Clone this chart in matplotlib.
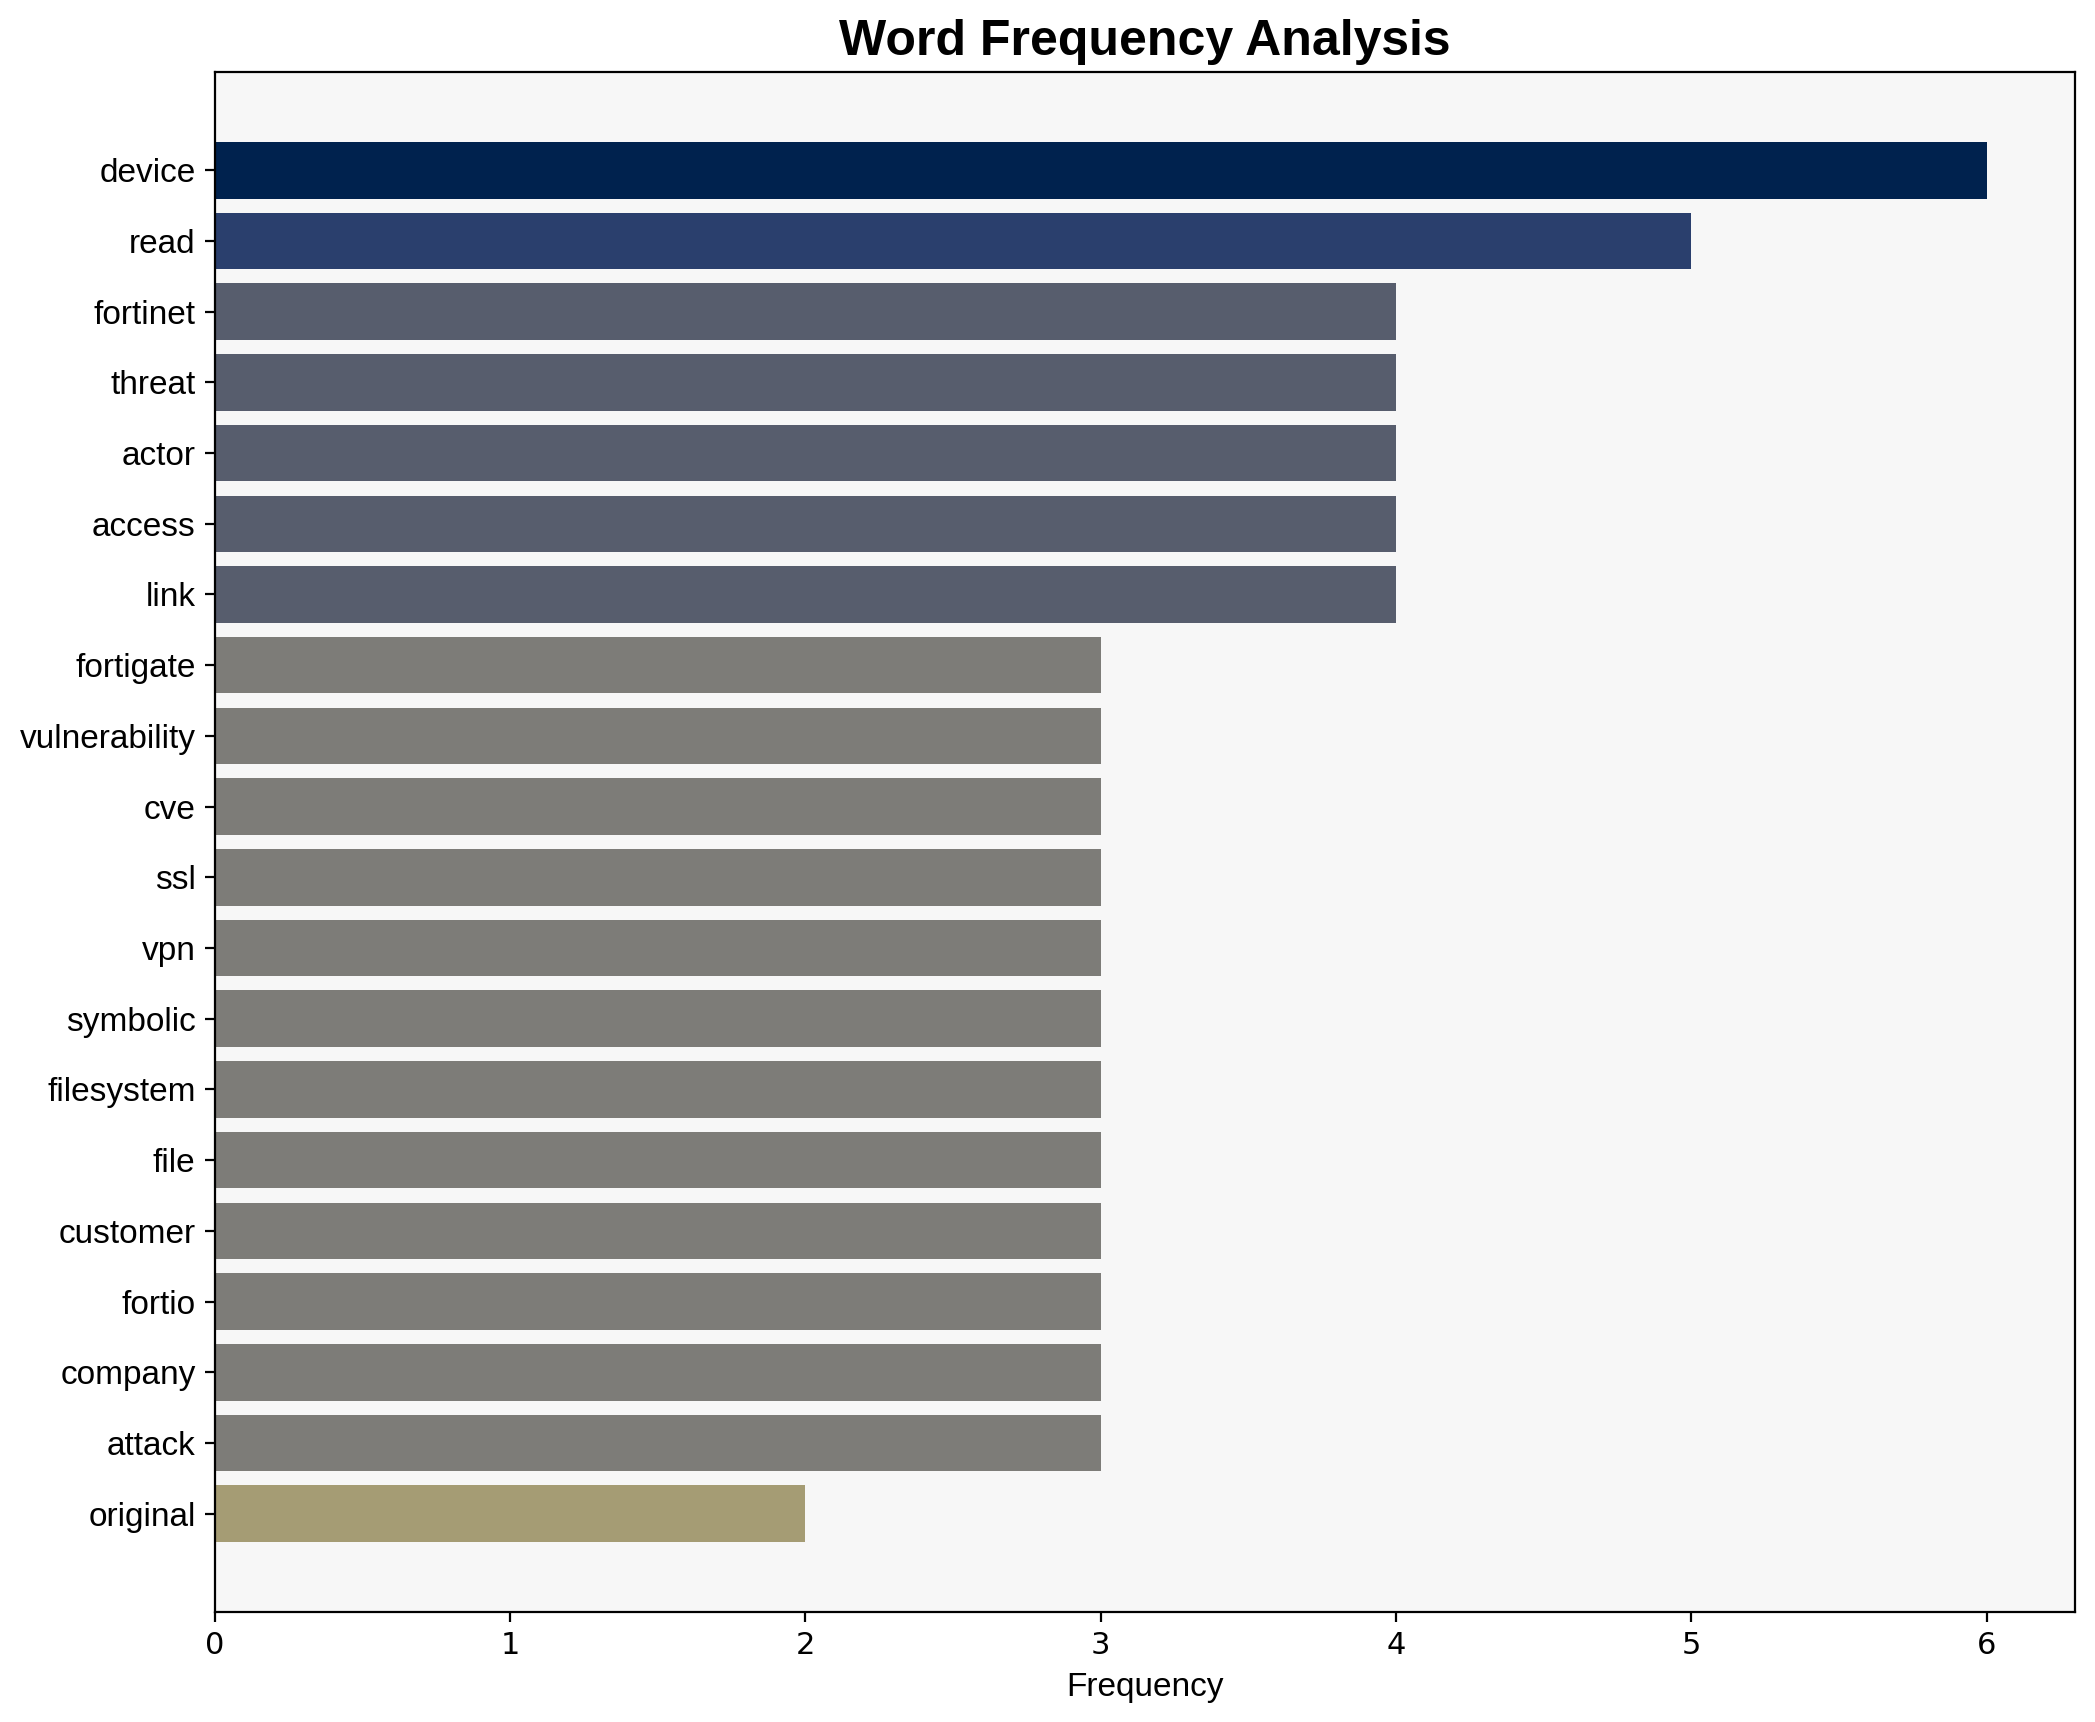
import matplotlib
matplotlib.use('Agg')
import matplotlib.pyplot as plt
import numpy as np

# Mots et fréquences
words = ['device', 'read', 'fortinet', 'threat', 'actor', 'access', 'link',
         'fortigate', 'vulnerability', 'cve', 'ssl', 'vpn', 'symbolic',
         'filesystem', 'file', 'customer', 'fortio', 'company', 'attack',
         'original']
counts = [6, 5, 4, 4, 4, 4, 4, 3, 3, 3, 3, 3, 3, 3, 3, 3, 3, 3, 3, 2]

counts_arr = np.array(counts)
colors = plt.cm.cividis(1 - counts_arr / counts_arr.max())

fig = plt.figure(figsize=(10.475, 8.61), dpi=200)
ax = fig.add_axes([0.1026, 0.0639, 0.8879, 0.8943])
ax.set_facecolor('#f7f7f7')
y = np.arange(len(words))
ax.barh(y, counts_arr, color=colors, height=0.8)
ax.set_yticks(y)
ax.set_yticklabels(words, fontsize=12, fontname='Liberation Sans')
ax.invert_yaxis()
ax.tick_params(axis='x', labelsize=11)
ax.set_xlabel('Frequency', fontsize=12, fontname='Liberation Sans')
ax.set_title('Word Frequency Analysis', fontsize=18, fontweight='bold',
             fontname='Liberation Sans')
fig.savefig('out.png', dpi=200)
